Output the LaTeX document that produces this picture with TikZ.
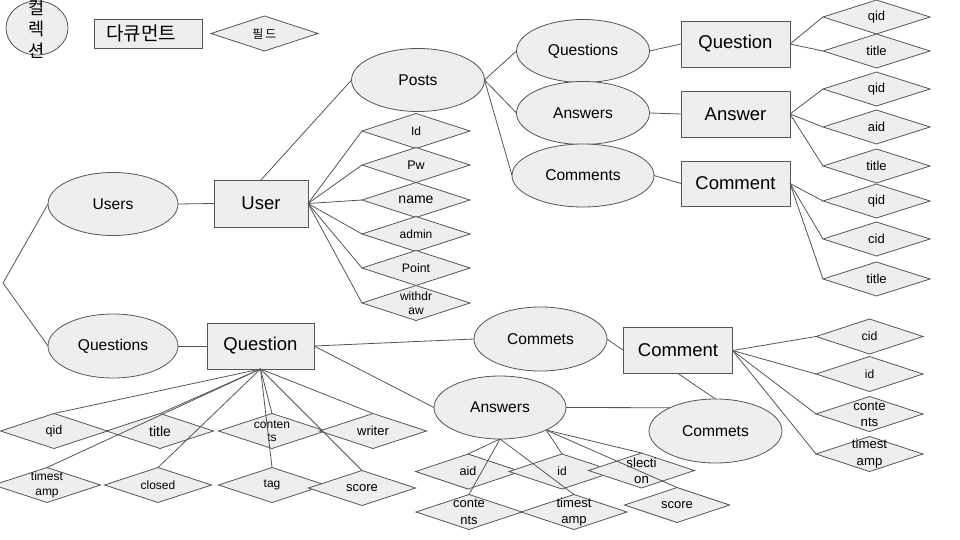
\documentclass[tikz,border=0pt]{standalone}
\usepackage{fontspec}
\setmainfont{Liberation Sans}
\newfontfamily\kr{Noto Sans CJK KR}
\usetikzlibrary{shapes.geometric}
\definecolor{fillc}{HTML}{EEEEEE}
\definecolor{linec}{HTML}{555555}
\tikzset{
  base/.style={draw=linec, fill=fillc, line width=0.8pt, inner sep=0pt, outer sep=0pt, text=black},
  coll/.style={base, ellipse, minimum width=133pt, minimum height=63pt, font=\fontsize{15.6}{18}\selectfont},
  docbox/.style={base, rectangle, minimum width=109pt, minimum height=46pt, font=\fontsize{18.5}{22}\selectfont},
  fld/.style n args={3}{base, diamond, minimum width=107pt, minimum height=35pt,
    label={[font=\fontsize{#1}{#2}\selectfont, align=center, inner sep=0pt, text=black]center:{#3}}},
  conn/.style={draw=linec, line width=0.8pt},
}
\begin{document}
\begin{tikzpicture}[x=1pt, y=-1pt]
\useasboundingbox (0,0) rectangle (960,540);

% legend
\node[base, ellipse, minimum width=62pt, minimum height=54pt,
  label={[font=\kr\fontsize{17.5}{21.5}\selectfont, align=center, inner sep=0pt, yshift=-1pt]center:{컬\\렉\\션}}] (lgE) at (37,28) {};
\node[base, rectangle, minimum width=108pt, minimum height=29pt,
  label={[font=\kr\fontsize{19}{22}\selectfont, inner sep=0pt, xshift=-7pt]center:{다큐먼트}}] (lgD) at (148,33.5) {};
\node[base, diamond, minimum width=107pt, minimum height=35pt,
  label={[font=\kr\fontsize{12}{14}\selectfont, inner sep=0pt]center:{필\,드}}] (lgF) at (264.5,33.5) {};

% top: posts
\node[coll] (posts) at (418,80) {Posts};
\node[coll] (qsE) at (583,51) {Questions};
\node[coll] (anE) at (583,113) {Answers};
\node[coll, minimum width=142pt] (cmE) at (583,175.5) {Comments};
\node[docbox] (qR) at (735.5,44) {Question};
\node[docbox] (aR) at (735.5,114) {Answer};
\node[docbox, minimum height=45pt] (cR) at (735.5,183.5) {Comment};

\node[fld={13}{15}{qid}, minimum height=34pt] (q1) at (876.5,17) {};
\node[fld={13}{15}{title}, minimum height=34pt] (q2) at (876.5,51) {};
\node[fld={13}{15}{qid}, minimum height=34pt] (a1) at (876.5,89) {};
\node[fld={13}{15}{aid}, minimum height=34pt] (a2) at (876.5,127) {};
\node[fld={13}{15}{title}, minimum height=34pt] (a3) at (876.5,166) {};
\node[fld={13}{15}{qid}, minimum height=34pt] (c1) at (876.5,201) {};
\node[fld={13}{15}{cid}, minimum height=34pt] (c2) at (876.5,239) {};
\node[fld={13}{15}{title}, minimum height=34pt] (c3) at (876.5,279) {};

% users
\node[coll, minimum width=130pt] (usersE) at (113,204) {Users};
\node[docbox, minimum width=94pt, minimum height=47pt] (userR) at (261,203.5) {User};
\node[fld={12}{14}{Id}, minimum width=108pt] (u1) at (416,131) {};
\node[fld={12.5}{14}{Pw}, minimum width=108pt] (u2) at (416,165) {};
\node[fld={14}{16}{name}, minimum width=108pt] (u3) at (416,200) {};
\node[fld={12}{14}{admin}, minimum width=108pt] (u4) at (416,234) {};
\node[fld={12.3}{14}{Point}, minimum width=108pt] (u5) at (416,268) {};
\node[fld={12}{14.3}{withdr\\aw}, minimum width=108pt] (u6) at (416,303) {};

\coordinate (fork) at (3,283);

% questions
\node[coll, minimum width=130pt, minimum height=64pt] (qsE2) at (113,346) {Questions};
\node[docbox, minimum width=107pt] (qR2) at (260.5,346) {Question};
\node[fld={12.5}{14}{qid}] (b1) at (54,431) {};
\node[fld={14}{16}{title}] (b2) at (160,431) {};
\node[fld={12}{12.7}{conten\\ts}] (b3) at (272,431) {};
\node[fld={13}{15}{writer}] (b4) at (373,431) {};
\node[fld={12}{14.3}{timest\\amp}] (b5) at (47,485) {};
\node[fld={12}{14}{closed}] (b6) at (158,485) {};
\node[fld={12}{14}{tag}] (b7) at (272,485) {};
\node[fld={13}{15}{score}] (b8) at (362,488) {};

% comments / answers
\node[coll, minimum height=64pt] (cmA) at (540.5,339) {Commets};
\node[coll, minimum width=132pt] (anB) at (500,407.5) {Answers};
\node[docbox] (cR2) at (678,350.5) {Comment};
\node[coll, minimum height=64pt] (cmB) at (715.5,431) {Commets};

\node[fld={12.3}{14}{cid}] (d1) at (869.5,336.5) {};
\node[fld={12}{14}{id}] (d2) at (869.5,374) {};
\node[fld={13.2}{16}{conte\\nts}] (d3) at (869.5,414) {};
\node[fld={13.2}{17}{timest\\amp}] (d4) at (869.5,454) {};

\node[fld={12.5}{14}{aid}, minimum width=105pt] (e1) at (468,471.5) {};
\node[fld={12}{14}{id}, minimum width=106pt] (e2) at (562,471.5) {};
\node[fld={13.2}{16}{slecti\\on}, minimum width=106pt] (e3) at (641.5,470.5) {};
\node[fld={13}{16.5}{conte\\nts}, minimum width=106pt] (e4) at (469,512) {};
\node[fld={13.1}{16.5}{timest\\amp}, minimum width=106pt] (e5) at (574,512) {};
\node[fld={13}{15}{score}, minimum width=105pt] (e6) at (677,505) {};

% connectors
\draw[conn] (usersE.west) -- (fork) -- (qsE2.west);
\draw[conn] (usersE.east) -- (userR.west);
\draw[conn] (userR.north) -- (posts.west);
\foreach \n in {u1,u2,u3,u4,u5,u6} \draw[conn] (userR.east) -- (\n.west);
\draw[conn] (posts.east) -- (qsE.west);
\draw[conn] (posts.east) -- (anE.west);
\draw[conn] (posts.east) -- (cmE.west);
\draw[conn] (qsE.east) -- (qR.west);
\draw[conn] (anE.east) -- (aR.west);
\draw[conn] (cmE.east) -- (cR.west);
\foreach \n in {q1,q2} \draw[conn] (qR.east) -- (\n.west);
\foreach \n in {a1,a2,a3} \draw[conn] (aR.east) -- (\n.west);
\foreach \n in {c1,c2,c3} \draw[conn] (cR.east) -- (\n.west);

\draw[conn] (qsE2.east) -- (qR2.west);
\foreach \n in {b1,b2,b3,b4,b5,b6,b7,b8} \draw[conn] (qR2.south) -- (\n.north);
\draw[conn] (qR2.east) -- (cmA.west);
\draw[conn] (qR2.east) -- (anB.west);
\draw[conn] (cmA.east) -- (cR2.west);
\draw[conn] (cR2.south) -- (cmB.north);
\draw[conn] (anB.east) -- (cmB.153);
\foreach \n in {d1,d2,d3,d4} \draw[conn] (cR2.east) -- (\n.west);
\foreach \n in {e1,e4,e5} \draw[conn] (anB.south) -- (\n.north);
\foreach \n in {e2,e3,e6} \draw[conn] (anB.334) -- (\n.north);
\end{tikzpicture}
\end{document}
